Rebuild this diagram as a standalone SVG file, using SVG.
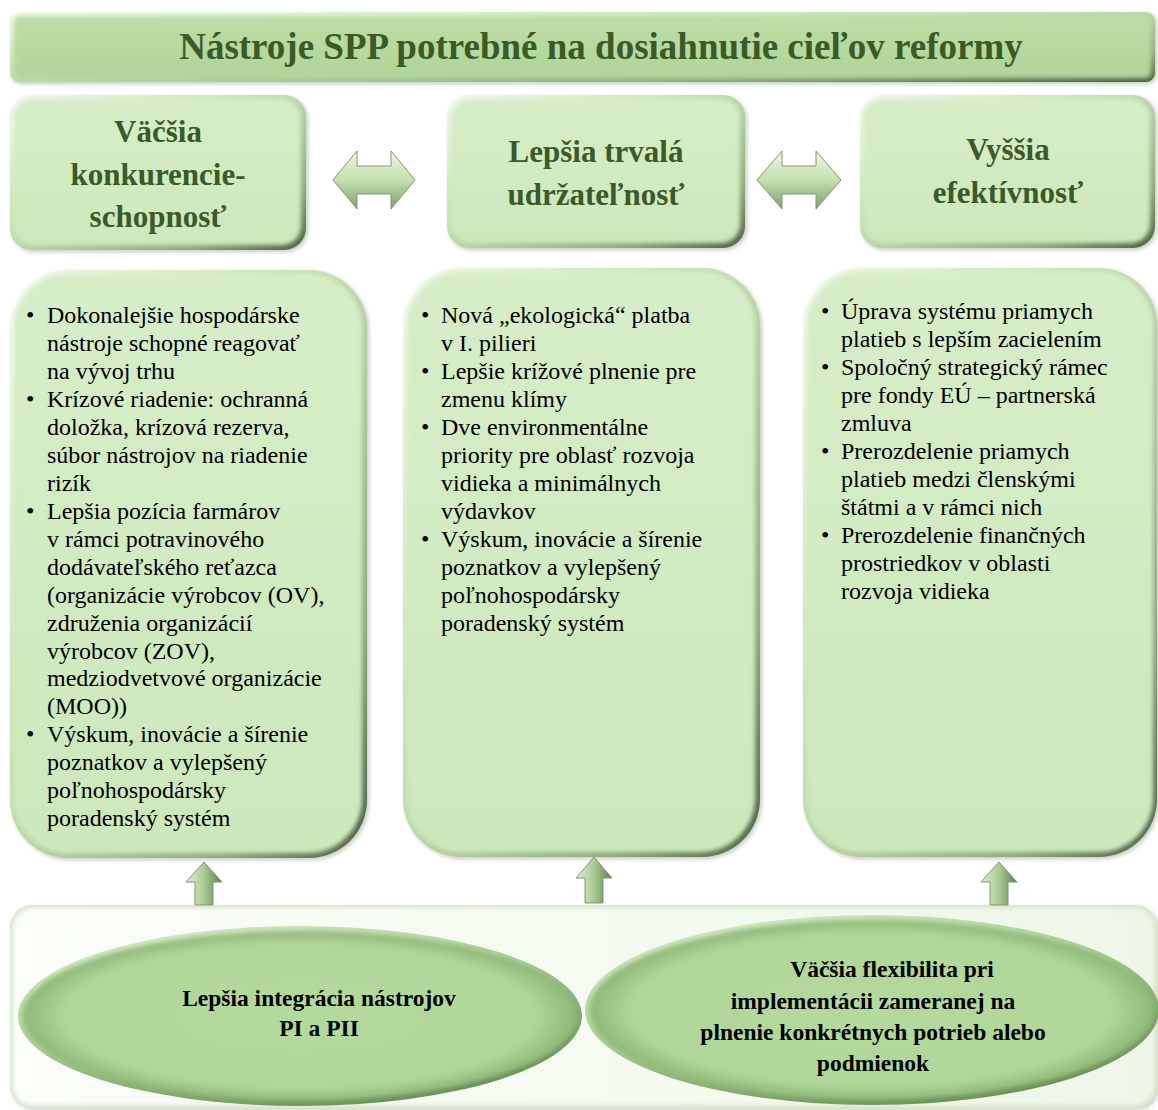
<svg xmlns="http://www.w3.org/2000/svg" width="1158" height="1110" viewBox="0 0 1158 1110">
<defs>
<linearGradient id="edge" x1="0" y1="0" x2="1" y2="1">
<stop offset="0" stop-color="#f4fbef"/>
<stop offset="0.45" stop-color="#c3dfb0"/>
<stop offset="0.8" stop-color="#8fab7e"/>
<stop offset="1" stop-color="#4a5e42"/>
</linearGradient>
<linearGradient id="boxFill" x1="0" y1="0" x2="0" y2="1">
<stop offset="0" stop-color="#d6eec8"/>
<stop offset="1" stop-color="#cde8bb"/>
</linearGradient>
<linearGradient id="titleFill" x1="0" y1="0" x2="0" y2="1">
<stop offset="0" stop-color="#bcdda6"/>
<stop offset="1" stop-color="#b0d698"/>
</linearGradient>
<linearGradient id="panelFill" x1="0" y1="0" x2="1" y2="0">
<stop offset="0" stop-color="#fbfef9"/>
<stop offset="1" stop-color="#eef7e7"/>
</linearGradient>
<radialGradient id="ellFill" cx="0.5" cy="0.5" r="0.5">
<stop offset="0" stop-color="#b4da9e"/>
<stop offset="0.85" stop-color="#b0d699"/>
<stop offset="1" stop-color="#8eb878"/>
</radialGradient>
<linearGradient id="ellEdge" x1="0" y1="0" x2="0.6" y2="1">
<stop offset="0" stop-color="#e2f2d6"/>
<stop offset="0.5" stop-color="#a9cf92"/>
<stop offset="1" stop-color="#6d9158"/>
</linearGradient>
<linearGradient id="hArrow" x1="0" y1="0" x2="0" y2="1">
<stop offset="0" stop-color="#eef8e6"/>
<stop offset="0.5" stop-color="#c3e0ae"/>
<stop offset="1" stop-color="#7f9f70"/>
</linearGradient>
<linearGradient id="vArrow" x1="0" y1="0" x2="1" y2="0">
<stop offset="0" stop-color="#dff0d2"/>
<stop offset="0.5" stop-color="#aacb94"/>
<stop offset="1" stop-color="#5f7d52"/>
</linearGradient>
<filter id="soft" x="-5%" y="-5%" width="110%" height="110%">
<feGaussianBlur stdDeviation="2.2"/>
</filter>
<filter id="shadow" x="-5%" y="-5%" width="112%" height="112%">
<feGaussianBlur stdDeviation="2"/>
</filter>
</defs>
<style>
.hdr{font-family:"Liberation Serif","Times New Roman",serif;font-weight:bold;fill:#3a5a27;text-anchor:middle}
.body{font-family:"Liberation Serif","Times New Roman",serif;font-size:24px;fill:#000}
.ell{font-family:"Liberation Serif","Times New Roman",serif;font-weight:bold;font-size:23.5px;fill:#000;text-anchor:middle}
.arrow{stroke:#7d9a6c;stroke-width:1}
</style>

<g id="title">
<rect x="12" y="14" width="1145" height="70" rx="9" fill="#8a9a82" opacity="0.5" filter="url(#shadow)"/>
<rect x="10" y="12" width="1145" height="70" rx="9" fill="url(#edge)"/>
<rect x="14" y="16" width="1137" height="62" rx="6" fill="url(#titleFill)" filter="url(#soft)"/>
<text class="hdr" x="601" y="59" font-size="37">Nástroje SPP potrebné na dosiahnutie cieľov reformy</text>
</g>

<g id="goal-competitiveness">
<rect x="12" y="97" width="296" height="155" rx="22" fill="#8a9a82" opacity="0.5" filter="url(#shadow)"/>
<rect x="10" y="95" width="296" height="155" rx="22" fill="url(#edge)"/>
<rect x="14" y="99" width="287" height="146" rx="19" fill="url(#boxFill)" filter="url(#soft)"/>
<text class="hdr" font-size="31"><tspan x="158" y="142">Väčšia</tspan><tspan x="158" y="185">konkurencie-</tspan><tspan x="158" y="227">schopnosť</tspan></text>
</g>

<g id="goal-sustainability">
<rect x="449" y="97" width="298" height="153" rx="22" fill="#8a9a82" opacity="0.5" filter="url(#shadow)"/>
<rect x="447" y="95" width="298" height="153" rx="22" fill="url(#edge)"/>
<rect x="451" y="99" width="289" height="144" rx="19" fill="url(#boxFill)" filter="url(#soft)"/>
<text class="hdr" font-size="31"><tspan x="596" y="162">Lepšia trvalá</tspan><tspan x="596" y="205">udržateľnosť</tspan></text>
</g>

<g id="goal-efficiency">
<rect x="862" y="97" width="295" height="153" rx="22" fill="#8a9a82" opacity="0.5" filter="url(#shadow)"/>
<rect x="860" y="95" width="295" height="153" rx="22" fill="url(#edge)"/>
<rect x="864" y="99" width="286" height="144" rx="19" fill="url(#boxFill)" filter="url(#soft)"/>
<text class="hdr" font-size="31"><tspan x="1008" y="160">Vyššia</tspan><tspan x="1008" y="203">efektívnosť</tspan></text>
</g>

<g id="tools-competitiveness">
<rect x="12" y="272" width="357" height="588" rx="58" fill="#8a9a82" opacity="0.5" filter="url(#shadow)"/>
<rect x="10" y="270" width="357" height="588" rx="58" fill="url(#edge)"/>
<rect x="14" y="274" width="348" height="579" rx="54" fill="url(#boxFill)" filter="url(#soft)"/>
<g class="body">
<text x="26" y="323">•</text>
<text x="47" y="323">Dokonalejšie hospodárske</text>
<text x="47" y="351">nástroje schopné reagovať</text>
<text x="47" y="379">na vývoj trhu</text>
<text x="26" y="407">•</text>
<text x="47" y="407">Krízové riadenie: ochranná</text>
<text x="47" y="435">doložka, krízová rezerva,</text>
<text x="47" y="463">súbor nástrojov na riadenie</text>
<text x="47" y="491">rizík</text>
<text x="26" y="519">•</text>
<text x="47" y="519">Lepšia pozícia farmárov</text>
<text x="47" y="547">v rámci potravinového</text>
<text x="47" y="575">dodávateľského reťazca</text>
<text x="47" y="603">(organizácie výrobcov (OV),</text>
<text x="47" y="631">združenia organizácií</text>
<text x="47" y="659">výrobcov (ZOV),</text>
<text x="47" y="686">medziodvetvové organizácie</text>
<text x="47" y="714">(MOO))</text>
<text x="26" y="742">•</text>
<text x="47" y="742">Výskum, inovácie a šírenie</text>
<text x="47" y="770">poznatkov a vylepšený</text>
<text x="47" y="798">poľnohospodársky</text>
<text x="47" y="826">poradenský systém</text>
</g>
</g>

<g id="tools-sustainability">
<rect x="405" y="270" width="357" height="589" rx="58" fill="#8a9a82" opacity="0.5" filter="url(#shadow)"/>
<rect x="403" y="268" width="357" height="589" rx="58" fill="url(#edge)"/>
<rect x="407" y="272" width="348" height="580" rx="54" fill="url(#boxFill)" filter="url(#soft)"/>
<g class="body">
<text x="421" y="323">•</text>
<text x="441" y="323">Nová „ekologická“ platba</text>
<text x="441" y="351">v I. pilieri</text>
<text x="421" y="379">•</text>
<text x="441" y="379">Lepšie krížové plnenie pre</text>
<text x="441" y="407">zmenu klímy</text>
<text x="421" y="435">•</text>
<text x="441" y="435">Dve environmentálne</text>
<text x="441" y="463">priority pre oblasť rozvoja</text>
<text x="441" y="491">vidieka a minimálnych</text>
<text x="441" y="519">výdavkov</text>
<text x="421" y="547">•</text>
<text x="441" y="547">Výskum, inovácie a šírenie</text>
<text x="441" y="575">poznatkov a vylepšený</text>
<text x="441" y="603">poľnohospodársky</text>
<text x="441" y="631">poradenský systém</text>
</g>
</g>

<g id="tools-efficiency">
<rect x="805" y="270" width="354" height="589" rx="58" fill="#8a9a82" opacity="0.5" filter="url(#shadow)"/>
<rect x="803" y="268" width="354" height="589" rx="58" fill="url(#edge)"/>
<rect x="807" y="272" width="346" height="580" rx="54" fill="url(#boxFill)" filter="url(#soft)"/>
<g class="body">
<text x="821" y="319">•</text>
<text x="841" y="319">Úprava systému priamych</text>
<text x="841" y="347">platieb s lepším zacielením</text>
<text x="821" y="375">•</text>
<text x="841" y="375">Spoločný strategický rámec</text>
<text x="841" y="403">pre fondy EÚ – partnerská</text>
<text x="841" y="431">zmluva</text>
<text x="821" y="459">•</text>
<text x="841" y="459">Prerozdelenie priamych</text>
<text x="841" y="487">platieb medzi členskými</text>
<text x="841" y="515">štátmi a v rámci nich</text>
<text x="821" y="543">•</text>
<text x="841" y="543">Prerozdelenie finančných</text>
<text x="841" y="571">prostriedkov v oblasti</text>
<text x="841" y="599">rozvoja vidieka</text>
</g>
</g>

<g id="base-panel">
<rect x="12" y="907" width="1147" height="203" rx="22" fill="#8a9a82" opacity="0.45" filter="url(#shadow)"/>
<rect x="10" y="905" width="1147" height="203" rx="22" fill="#d7e6cf"/>
<rect x="13" y="908" width="1141" height="197" rx="20" fill="url(#panelFill)" filter="url(#soft)"/>
</g>

<g id="integration">
<ellipse cx="300" cy="1016" rx="282" ry="90" fill="url(#ellEdge)"/>
<ellipse cx="300" cy="1016" rx="277" ry="85" fill="url(#ellFill)" filter="url(#soft)"/>
<text class="ell"><tspan x="319" y="1006">Lepšia integrácia nástrojov</tspan><tspan x="319" y="1036">PI a PII</tspan></text>
</g>

<g id="flexibility">
<ellipse cx="872" cy="1010" rx="287" ry="95" fill="url(#ellEdge)"/>
<ellipse cx="872" cy="1010" rx="282" ry="90" fill="url(#ellFill)" filter="url(#soft)"/>
<text class="ell"><tspan x="892" y="977">Väčšia flexibilita pri</tspan><tspan x="873" y="1009">implementácii zameranej na</tspan><tspan x="873" y="1040">plnenie konkrétnych potrieb alebo</tspan><tspan x="873" y="1071">podmienok</tspan></text>
</g>

<g id="connectors">
<polygon class="arrow" fill="url(#hArrow)" points="333,180 357,151 357,166 391,166 391,151 415,180 391,209 391,194 357,194 357,209"/>
<polygon class="arrow" fill="url(#hArrow)" points="757,180 782,151 782,166 816,166 816,151 841,180 816,209 816,194 782,194 782,209"/>
<polygon class="arrow" fill="url(#vArrow)" points="204,862 222,882 213,882 213,905 195,905 195,882 186,882"/>
<polygon class="arrow" fill="url(#vArrow)" points="594,857 612,878 603,878 603,903 585,903 585,878 576,878"/>
<polygon class="arrow" fill="url(#vArrow)" points="999,862 1017,882 1008,882 1008,905 990,905 990,882 981,882"/>
</g>
</svg>
